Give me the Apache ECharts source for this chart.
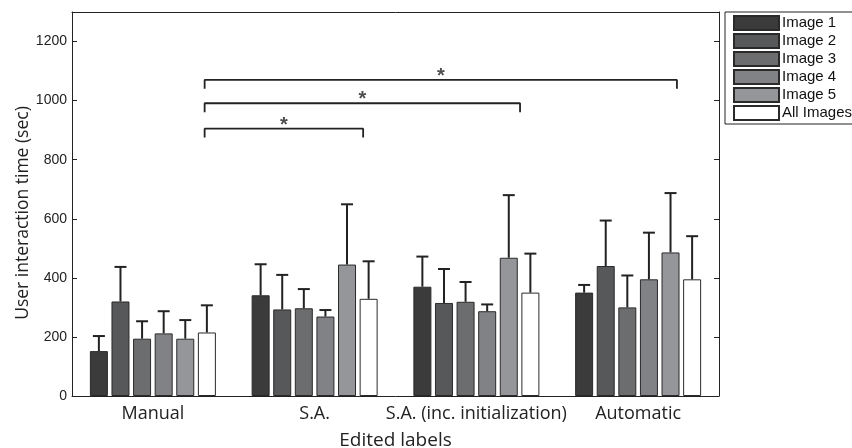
<!DOCTYPE html>
<html><head><meta charset="utf-8">
<script src="https://cdn.jsdelivr.net/npm/echarts@6/dist/echarts.min.js"></script>
<style>html,body{margin:0;padding:0;background:#fff}#c{width:852px;height:448px}</style>
</head><body><div id="c"></div>
<script>
// ---------------- data ----------------
const categories = ['Manual', 'S.A.', 'S.A. (inc. initialization)', 'Automatic'];
const seriesNames = ['Image 1', 'Image 2', 'Image 3', 'Image 4', 'Image 5', 'All Images'];

const image1Mean = [152, 341, 370, 350];
const image2Mean = [320, 293, 315, 440];
const image3Mean = [194, 297, 319, 300];
const image4Mean = [212, 269, 287, 395];
const image5Mean = [194, 445, 468, 486];
const allMean    = [215, 329, 350, 395];

const image1Sd = [51, 105, 102, 26];
const image2Sd = [117, 117, 115, 154];
const image3Sd = [59, 65, 67, 108];
const image4Sd = [75, 22, 23, 158];
const image5Sd = [63, 204, 212, 201];
const allSd    = [92, 127, 132, 146];

const yMin = 0, yMax = 1300, yStep = 200;
const yTitle = 'User interaction time (sec)';
const xTitle = 'Edited labels';

// significance brackets (x in category-index units, y in seconds)
const bracketStart = [0.32, 0.32, 0.32];
const bracketEnd   = [1.30, 2.27, 3.24];
const bracketY     = [905, 991, 1070];
const bracketDrop  = 30;
const starY        = [933, 1020, 1100];
const starText     = ['*', '*', '*'];

// ---------------- styles ----------------
const colors = ['#3b3b3b', '#57585a', '#6c6d6f', '#818285', '#95969a', '#ffffff'];
const BAR_W = 18, BAR_GAP = 0.2;
const BAR_STEP = BAR_W * (1 + BAR_GAP);
const ink = '#222';
const labelFont = 'Open Sans';
const numFont = 'Liberation Sans';

const means = [image1Mean, image2Mean, image3Mean, image4Mean, image5Mean, allMean];
const sds = [image1Sd, image2Sd, image3Sd, image4Sd, image5Sd, allSd];

const series = [];
means.forEach((m, i) => {
  series.push({
    type: 'bar', name: seriesNames[i], data: m,
    xAxisIndex: 0, yAxisIndex: 0,
    barWidth: BAR_W, barGap: (BAR_GAP * 100) + '%',
    itemStyle: { color: colors[i], borderColor: '#2a2a2a', borderWidth: 1 },
    emphasis: { disabled: true }, z: 2
  });
});
means.forEach((m, i) => {
  series.push({
    type: 'custom', name: 'err' + i, xAxisIndex: 0, yAxisIndex: 0, z: 4,
    data: m.map((v, k) => [k, v, v + sds[i][k]]),
    renderItem: function (params, api) {
      const base = api.coord([api.value(0), api.value(1)]);
      const top = api.coord([api.value(0), api.value(2)]);
      const x = base[0] + (i - 2.5) * BAR_STEP;
      return { type: 'group', children: [
        { type: 'line', shape: { x1: x, y1: base[1], x2: x, y2: top[1] }, style: { stroke: ink, lineWidth: 2 } },
        { type: 'line', shape: { x1: x - 6, y1: top[1], x2: x + 6, y2: top[1] }, style: { stroke: ink, lineWidth: 2 } }
      ]};
    }
  });
});
bracketStart.forEach((s, j) => {
  const e = bracketEnd[j], y = bracketY[j];
  series.push({
    type: 'line', xAxisIndex: 2, yAxisIndex: 0, z: 5, symbol: 'none', silent: true,
    lineStyle: { color: ink, width: 1.8 },
    data: [[s, y - bracketDrop], [s, y], [e, y], [e, y - bracketDrop]]
  });
  series.push({
    type: 'scatter', xAxisIndex: 2, yAxisIndex: 0, z: 5, symbolSize: 0, silent: true,
    data: [[(s + e) / 2, starY[j]]],
    label: { show: true, position: 'inside', formatter: starText[j], color: ink,
      fontFamily: numFont, fontWeight: 'bold', fontSize: 20, offset: [0, 5] }
  });
});

const chart = echarts.init(document.getElementById('c'), null, { renderer: 'canvas' });
chart.setOption({
  animation: false,
  backgroundColor: '#fff',
  grid: { left: 72, right: 133, top: 12, bottom: 52, containLabel: false, outerBoundsMode: 'none' },
  legend: {
    data: seriesNames, orient: 'vertical', left: 725, top: 12,
    itemWidth: 45, itemHeight: 14, itemGap: 2,
    padding: [3, 60, 3, 8],
    borderColor: ink, borderWidth: 1,
    icon: 'rect',
    textStyle: { fontFamily: numFont, fontSize: 15, lineHeight: 14, color: '#111', padding: [0, 0, 0, -2] }
  },
  graphic: [{
    type: 'text', x: 23, y: 213, rotation: Math.PI / 2, silent: true,
    style: { text: yTitle, fontFamily: labelFont, fontSize: 17.5, fill: ink,
      align: 'center', verticalAlign: 'middle' }
  }],
  xAxis: [
    { type: 'category', data: categories, position: 'bottom',
      axisLine: { onZero: false, lineStyle: { color: ink, width: 1 } },
      axisTick: { inside: true, alignWithLabel: true, length: 5, lineStyle: { color: '#555' } },
      axisLabel: { fontFamily: labelFont, fontSize: 18, color: ink, margin: 9, interval: 0 },
      name: xTitle, nameLocation: 'middle', nameGap: 35,
      nameTextStyle: { fontFamily: labelFont, fontSize: 19, color: ink } },
    { type: 'category', data: categories, position: 'top',
      axisLine: { onZero: false, lineStyle: { color: ink, width: 1 } },
      axisTick: { inside: true, alignWithLabel: true, length: 5, lineStyle: { color: '#555' } },
      axisLabel: { show: false } },
    { type: 'value', min: -0.5, max: 3.5, show: false }
  ],
  yAxis: [
    { type: 'value', min: yMin, max: yMax, interval: yStep, position: 'left',
      axisLine: { show: true, onZero: false, lineStyle: { color: ink, width: 1 } },
      axisTick: { show: true, inside: true, length: 5, lineStyle: { color: ink } },
      splitLine: { show: false },
      axisLabel: { fontFamily: numFont, fontSize: 14, color: ink, margin: 5, showMaxLabel: false,
        formatter: v => String(v) } },
    { type: 'value', min: yMin, max: yMax, interval: yStep, position: 'right',
      axisLine: { show: true, onZero: false, lineStyle: { color: ink, width: 1 } },
      axisTick: { show: true, inside: true, length: 5, lineStyle: { color: ink } },
      splitLine: { show: false },
      axisLabel: { show: false } }
  ],
  series: series
});
</script>
</body></html>
